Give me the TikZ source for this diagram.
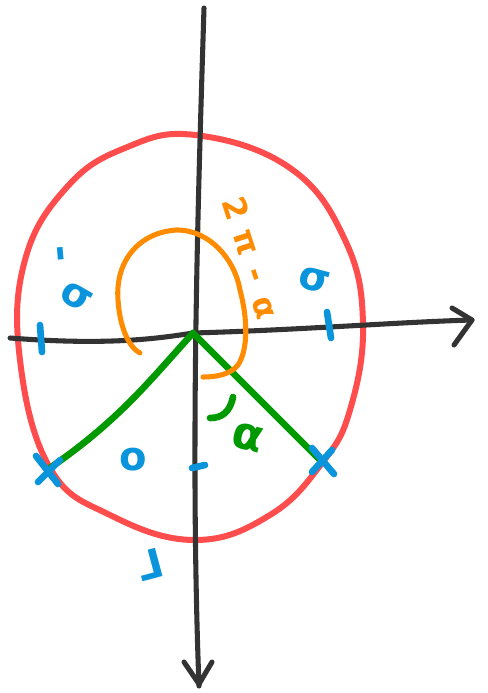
\documentclass[tikz,border=0pt]{standalone}
\usepackage{fontspec}
\setmainfont{DejaVu Sans}
\begin{document}
\begin{tikzpicture}[x=0.75pt,y=-0.75pt,
  axis/.style={draw=black!80, line width=3.8pt, line cap=round, line join=round},
  redc/.style={draw=red!70!white, line width=4.5pt},
  greenl/.style={draw=green!60!black, line width=5pt, line cap=round},
  orangel/.style={draw=orange!90!yellow, line width=3.8pt, line cap=round},
  bluem/.style={draw=cyan!80!blue, line width=5pt, line cap=round},
  bluet/.style={text=cyan!80!blue, font=\bfseries\fontsize{30}{30}\selectfont, inner sep=0pt},
  oranget/.style={text=orange!90!yellow, font=\bfseries\fontsize{24}{24}\selectfont, rotate=-72, inner sep=0pt},
]
\useasboundingbox (0,0) rectangle (488,693);
% red circle
\draw[redc] plot[smooth cycle, tension=0.7] coordinates {(195,135) (290,168) (345,240) (363,323) (350,410) (322,463) (270,515) (195,540) (110,515) (50,468) (20,360) (25,260) (67,187) (125,148)};
% axes
\coordinate (O) at (193,333);
\coordinate (ytop) at (204,8);
\coordinate (ybot) at (199,686);
\coordinate (xl) at (10,338);
\coordinate (xr) at (472,320);
\draw[axis] (ytop) .. controls (198,200) and (190,450) .. (ybot);
\draw[axis] (184,662) -- (199,684) -- (212,662);
\draw[axis] (xl) .. controls (100,345) and (150,340) .. (O) .. controls (300,330) and (400,322) .. (xr);
\draw[axis] (452,308) -- (472,320) -- (454,345);
% green rays
\coordinate (L) at (47,470);
\coordinate (R) at (320,460);
\draw[greenl] (O) .. controls (150,380) and (120,420) .. (L);
\draw[greenl] (O) -- (R);
% orange arc
\draw[orangel] (140,353) .. controls (130,348) and (120,330) .. (118,300)
  .. controls (115,260) and (140,232) .. (177,230)
  .. controls (210,230) and (235,260) .. (240,290)
  .. controls (248,320) and (248,350) .. (238,365)
  .. controls (230,375) and (215,377) .. (203,377);
\node[oranget] (t2) at (236,208) {2};
\node[oranget] (tpi) at (244,243) {π};
\node[oranget] (tminus) at (252,276) {-};
\node[oranget] (talpha) at (263,308) {α};
% green angle
\draw[greenl] (233,397) .. controls (230,412) and (222,418) .. (210,418);
\node[text=green!60!black, font=\bfseries\fontsize{34}{34}\selectfont, inner sep=0pt, rotate=-15] (alpha) at (248,438) {α};
% blue ticks and crosses
\draw[bluem] (40,325) -- (42,352);
\draw[bluem] (327,312) -- (331,338);
\draw[bluem] (192,468) -- (205,465);
\draw[bluem] (36,456) -- (58,484);
\draw[bluem] (38,482) -- (60,460);
\draw[bluem] (312,448) -- (334,474);
\draw[bluem] (312,472) -- (332,450);
\node[bluet, rotate=-85] (lnegdash) at (56,254) {-};
\node[bluet, rotate=-30] (lneg) at (76,297) {σ};
\node[bluet, rotate=-15] (lpos) at (314,280) {σ};
\node[bluet] (zero) at (133,460) {o};
\node[bluet, xscale=-1, rotate=-15] (lbot) at (150,565) {L};
\end{tikzpicture}
\end{document}
